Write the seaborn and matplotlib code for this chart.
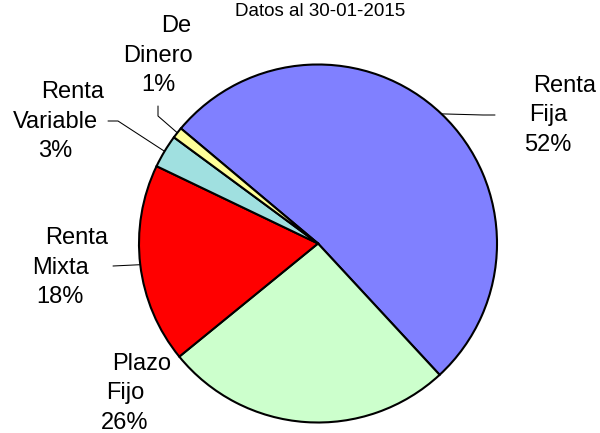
import numpy as np
import matplotlib
matplotlib.use("Agg")
import matplotlib.pyplot as plt
import seaborn as sns

# Fund composition by type
categories = ["Renta Fija", "Plazo Fijo", "Renta Mixta", "Renta Variable", "De Dinero"]
shares = [52, 26, 18, 3, 1]
colors = ["#8080FF", "#CCFFCC", "#FF0000", "#A0E0E0", "#FFFF99"]
title = "Datos al 30-01-2015"

sns.set_theme(style="white")
plt.rcParams["font.family"] = ["Liberation Sans", "DejaVu Sans"]

W, H = 600, 433
fig = plt.figure(figsize=(W / 100, H / 100), dpi=100)
fig.patch.set_facecolor("white")
ax = fig.add_axes([0, 0, 1, 1])

# pie centre and radius in pixels
cx, cy, R = 318.0, 243.5, 179.0

wedges, _ = ax.pie(shares, colors=colors, startangle=140, counterclock=False,
                   wedgeprops=dict(edgecolor="black", linewidth=1.5))
ax.set_xlim(-cx / R, (W - cx) / R)
ax.set_ylim(-(H - cy) / R, cy / R)
ax.set_aspect("auto")
ax.axis("off")


def fx(px):
    return px / W


def fy(py):
    return 1 - py / H


# label block: (x centre of first line, x centre of other lines, first baseline)
label_pos = {
    "Renta Fija": (565, 548, 92),
    "Plazo Fijo": (142, 125, 370),
    "Renta Mixta": (77, 60, 244),
    "Renta Variable": (73, 55, 98),
    "De Dinero": (176, 158, 32),
}
line_gap = 29.5
fs = 17
for name, val in zip(categories, shares):
    x1, x2, y0 = label_pos[name]
    first, second = name.split(" ", 1)
    fig.text(fx(x1), fy(y0), first, ha="center", va="baseline", fontsize=fs, color="black")
    fig.text(fx(x2), fy(y0 + line_gap), second, ha="center", va="baseline", fontsize=fs, color="black")
    fig.text(fx(x2), fy(y0 + 2 * line_gap), f"{val}%", ha="center", va="baseline", fontsize=fs, color="black")

# leader lines from the wedge mid-point on the rim to the label
leader_path = {
    "Renta Fija": [(483, 115), (495, 115)],
    "Renta Mixta": [(113, 266)],
    "Renta Variable": [(118, 121), (108, 121)],
    "De Dinero": [(158, 116), (158, 106)],
}
for w, name in zip(wedges, categories):
    if name not in leader_path:
        continue
    mid = np.deg2rad((w.theta1 + w.theta2) / 2)
    sx, sy = cx + R * np.cos(mid), cy - R * np.sin(mid)
    pts = [(sx, sy)] + leader_path[name]
    fig.add_artist(plt.Line2D([fx(p[0]) for p in pts], [fy(p[1]) for p in pts],
                              transform=fig.transFigure, color="black", linewidth=0.75))

fig.text(fx(320), fy(16), title, ha="center", va="baseline", fontsize=13.5, color="black")

fig.savefig("out.png", dpi=100, facecolor="white")
